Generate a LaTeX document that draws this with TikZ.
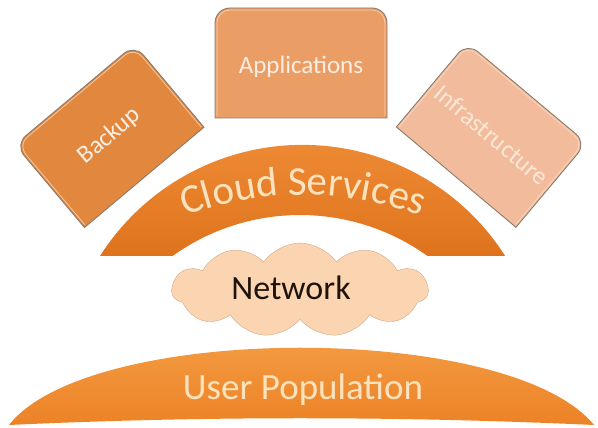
\documentclass[tikz,border=0pt]{standalone}
\usepackage{fontspec}
\setmainfont{Carlito}
\usetikzlibrary{shapes.symbols,decorations.text,backgrounds}
\definecolor{backupfill}{HTML}{E2883E}
\definecolor{appsfill}{HTML}{EB9D66}
\definecolor{infrafill}{HTML}{F2BC9C}
\definecolor{boxedge}{HTML}{8C7A6C}
\definecolor{boxhi}{HTML}{FBE2CC}
\definecolor{boxtxt}{HTML}{FCEEE2}
\definecolor{arctop}{HTML}{EE8A34}
\definecolor{arcbot}{HTML}{DF731D}
\definecolor{uptop}{HTML}{F5A048}
\definecolor{upbot}{HTML}{EC8226}
\definecolor{cream}{HTML}{FCE3BE}
\definecolor{cloudfill}{HTML}{FBD4B2}
\definecolor{cloudedge}{HTML}{D0A888}
\begin{document}
\begin{tikzpicture}[x=1pt,y=1pt,
  boxline/.style={draw=boxedge, line width=0.9pt},
  boxhl/.style={draw=boxhi, line width=0.8pt, opacity=0.7},
  boxlabel/.style={text=boxtxt, font=\fontsize{25}{25}\selectfont, inner sep=0pt},
  bigorange/.style={top color=#1, bottom color=arcbot, draw=none},
]
\useasboundingbox (0,0) rectangle (598,428);

% box label nodes (shapes drawn on background layer)
\node[boxlabel, rotate=40] (backup) at (109.5,292) {Backup};
\node[boxlabel] (apps) at (301,361) {Applications};
\node[boxlabel, rotate=-40, text=boxtxt!85!infrafill] (infra) at (491.5,293) {Infrastructure};

\begin{scope}[on background layer]
  \begin{scope}[shift={(backup.center)}, rotate=40]
    \filldraw[boxline, fill=backupfill] (-78,-54) -- (-78,40) arc[start angle=180,end angle=90,radius=14pt] -- (64,54) arc[start angle=90,end angle=0,radius=14pt] -- (78,-54) -- cycle;
    \draw[boxhl] (-76,-52) -- (-76,40) arc[start angle=180,end angle=90,radius=12pt] -- (64,52) arc[start angle=90,end angle=0,radius=12pt] -- (76,-52);
  \end{scope}
  \begin{scope}[shift={(301,365)}]
    \filldraw[boxline, fill=appsfill] (-86,-55) -- (-86,40) arc[start angle=180,end angle=90,radius=15pt] -- (71,55) arc[start angle=90,end angle=0,radius=15pt] -- (86,-55) -- cycle;
    \draw[boxhl] (-84,-53) -- (-84,40) arc[start angle=180,end angle=90,radius=13pt] -- (71,53) arc[start angle=90,end angle=0,radius=13pt] -- (84,-53);
  \end{scope}
  \begin{scope}[shift={(infra.center)}, rotate=-40]
    \filldraw[boxline, fill=infrafill] (-78,-55) -- (-78,41) arc[start angle=180,end angle=90,radius=14pt] -- (64,55) arc[start angle=90,end angle=0,radius=14pt] -- (78,-55) -- cycle;
    \draw[boxhl] (-76,-53) -- (-76,41) arc[start angle=180,end angle=90,radius=12pt] -- (64,53) arc[start angle=90,end angle=0,radius=12pt] -- (76,-53);
  \end{scope}
\end{scope}

% Cloud Services arc
\path[bigorange=arctop] (100,172) arc[start angle=147.5, end angle=32.5, radius=240.2pt] -- (427.5,172) arc[start angle=54.35, end angle=125.65, radius=218.7pt] -- cycle;
\path[decorate, decoration={text along path, text align=center, text color=cream,
  text={|\fontsize{41}{41}\selectfont|Cloud Services}}]
  (303,-107) ++(140:340pt) arc[start angle=140, end angle=40, radius=340pt];

% Network cloud
\node[cloud, cloud puffs=11, cloud puff arc=110, aspect=2.7, minimum width=256pt, minimum height=94pt, fill=cloudfill, draw=cloudedge, inner sep=0pt] (net) at (300,138) {};
\node[font=\fontsize{34}{34}\selectfont, text=black!85!brown, inner sep=0pt] (nettext) at (291,140) {Network};

% User Population
\path[top color=uptop, bottom color=upbot] (9,3) .. controls (90,106) and (510,106) .. (594,3) .. controls (400,12) and (200,12) .. (9,3) -- cycle;
\node[font=\fontsize{37}{37}\selectfont, text=cream, inner sep=0pt] (users) at (303,38) {User Population};
\end{tikzpicture}
\end{document}
